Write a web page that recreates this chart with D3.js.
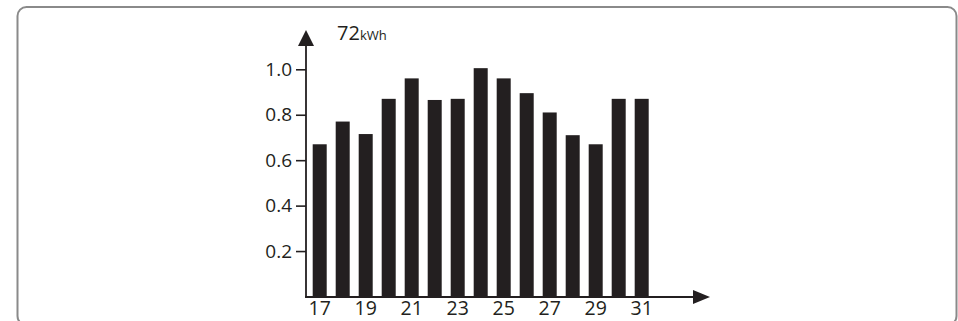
<!DOCTYPE html>
<html><head><meta charset="utf-8">
<script src="https://cdn.jsdelivr.net/npm/d3@7"></script>
<style>html,body{margin:0;padding:0;background:#fff;}svg{display:block;}</style>
</head><body>
<script>
const days = ["17","18","19","20","21","22","23","24","25","26","27","28","29","30","31"];
const values = [0.67,0.77,0.715,0.87,0.96,0.865,0.87,1.005,0.96,0.895,0.81,0.71,0.67,0.87,0.87];
const yTicks = [0.2,0.4,0.6,0.8,1.0];
const xLabels = ["17","19","21","23","25","27","29","31"];
const title = "72";
const unit = "kWh";

const W = 958, H = 321;
const ink = "#231f20";
const font = "'Open Sans', 'Noto Sans', sans-serif";
const svg = d3.select("body").append("svg").attr("width", W).attr("height", H);

svg.append("rect").attr("x", 17.5).attr("y", 7).attr("width", 939).attr("height", 318)
  .attr("rx", 9).attr("fill", "none").attr("stroke", "#8a8a8a").attr("stroke-width", 2);

const axisX = 306, baseY = 297;
const x = d3.scaleBand().domain(days).range([312.7, 648.7]).paddingInner(0.391).paddingOuter(0);
const y = d3.scaleLinear().domain([0, 1]).range([296.5, 69.3]);

svg.append("g").selectAll("rect").data(values).join("rect")
  .attr("x", (d, i) => x(days[i])).attr("width", x.bandwidth())
  .attr("y", d => y(d)).attr("height", d => baseY - y(d)).attr("fill", ink);

// y axis
const yAxis = d3.axisLeft(y).tickValues(yTicks).tickSize(10).tickPadding(4).tickFormat(d3.format(".1f"));
const gy = svg.append("g").attr("transform", `translate(${axisX},0)`).call(yAxis);
gy.select(".domain").remove();
gy.selectAll(".tick line").attr("stroke", ink).attr("stroke-width", 1.6);
gy.selectAll(".tick text").attr("fill", ink).style("font-family", font).style("font-size", "19px");

// x axis labels
const xAxis = d3.axisBottom(x).tickValues(xLabels).tickSize(0).tickPadding(4);
const gx = svg.append("g").attr("transform", `translate(0,${baseY})`).call(xAxis);
gx.select(".domain").remove();
gx.selectAll(".tick text").attr("fill", ink).style("font-family", font).style("font-size", "19.5px");

// axis lines and arrows
svg.append("line").attr("x1", axisX).attr("x2", axisX).attr("y1", 40).attr("y2", baseY + 0.8)
  .attr("stroke", ink).attr("stroke-width", 1.8);
svg.append("line").attr("x1", axisX - 0.9).attr("x2", 698).attr("y1", baseY).attr("y2", baseY)
  .attr("stroke", ink).attr("stroke-width", 1.8);
svg.append("path").attr("d", `M${axisX},30 L${axisX + 8},46 L${axisX - 8},46 Z`).attr("fill", ink);
svg.append("path").attr("d", `M710,${baseY} L693,${baseY - 7} L693,${baseY + 7} Z`).attr("fill", ink);

const t = svg.append("text").attr("x", 337).attr("y", 39.5).attr("fill", ink).style("font-family", font);
t.append("tspan").style("font-size", "20px").text(title);
t.append("tspan").style("font-size", "13px").text(unit);
</script>
</body></html>
